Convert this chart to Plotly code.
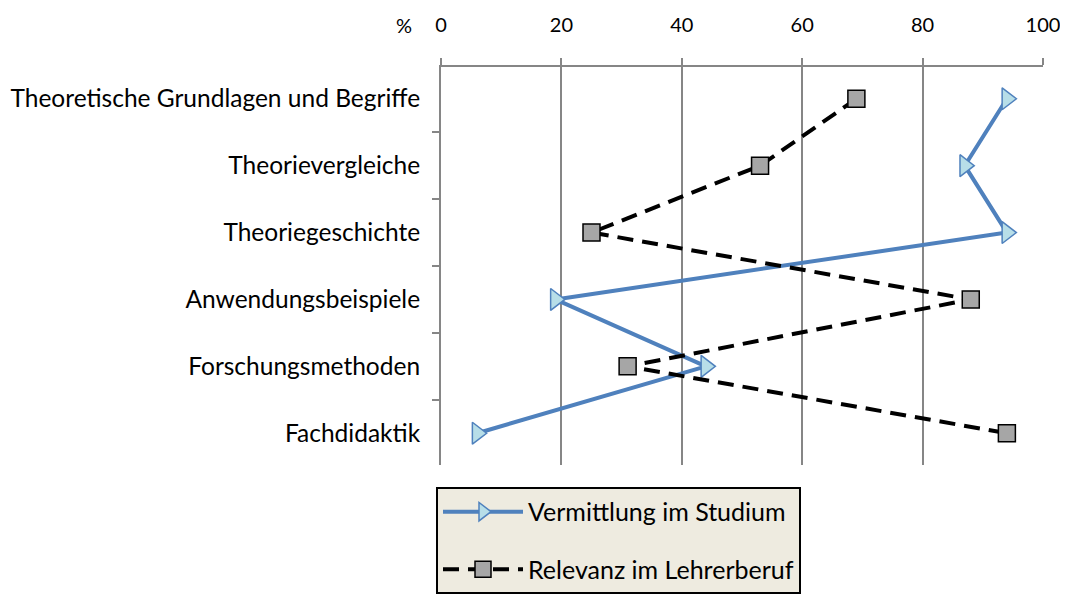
import plotly.graph_objects as go

categories = ["Theoretische Grundlagen und Begriffe", "Theorievergleiche", "Theoriegeschichte",
              "Anwendungsbeispiele", "Forschungsmethoden", "Fachdidaktik"]
vermittlung = [94, 87, 94, 19, 44, 6]
relevanz = [69, 53, 25, 88, 31, 94]
x_ticks = [0, 20, 40, 60, 80, 100]

FONT = "Lato"
fig = go.Figure()
fig.add_trace(go.Scatter(
    x=vermittlung, y=categories, name="Vermittlung im Studium", mode="lines+markers",
    line=dict(color="#4F81BD", width=4),
    marker=dict(symbol="triangle-right", size=19, color="#B7DEE8",
                line=dict(color="#4F81BD", width=1.5)),
    legendgroup="a"))
fig.add_trace(go.Scatter(
    x=relevanz, y=categories, name="Relevanz im Lehrerberuf", mode="lines+markers",
    line=dict(color="black", width=4, dash="16px,9px"),
    marker=dict(symbol="square", size=17, color="#A6A6A6",
                line=dict(color="black", width=1.5)),
    legendgroup="b"))

fig.update_layout(
    template="none",
    width=1060, height=594,
    margin=dict(l=433, r=25, t=59, b=137, autoexpand=False),
    plot_bgcolor="white", paper_bgcolor="white",
    font=dict(family=FONT, size=24, color="black"),
    xaxis=dict(side="top", range=[0, 100], tickvals=x_ticks, showgrid=True,
               gridcolor="#868686", gridwidth=2, showline=True, linecolor="#868686",
               linewidth=2, ticks="outside", ticklen=7, tickcolor="#868686", tickwidth=2,
               ticklabelstandoff=18, zeroline=False, tickfont=dict(size=20),
               automargin=False),
    yaxis=dict(autorange="reversed", showline=True, linecolor="#868686", linewidth=2,
               ticks="outside", tickson="boundaries", ticklen=7, tickcolor="#868686",
               tickwidth=2, showgrid=False, ticklabelstandoff=14, tickfont=dict(size=24.5),
               automargin=False, zeroline=False),
    legend=dict(x=-0.0083, y=-0.055, xanchor="left", yanchor="top",
                bgcolor="#EEEBE0", bordercolor="black", borderwidth=2,
                font=dict(family=FONT, size=25), tracegroupgap=22, itemwidth=80),
    annotations=[dict(text="%", xref="paper", yref="paper", x=-0.0615, y=1.1055,
                      xanchor="center", yanchor="middle", showarrow=False,
                      font=dict(family=FONT, size=20))],
)
fig.write_html("out.html")
